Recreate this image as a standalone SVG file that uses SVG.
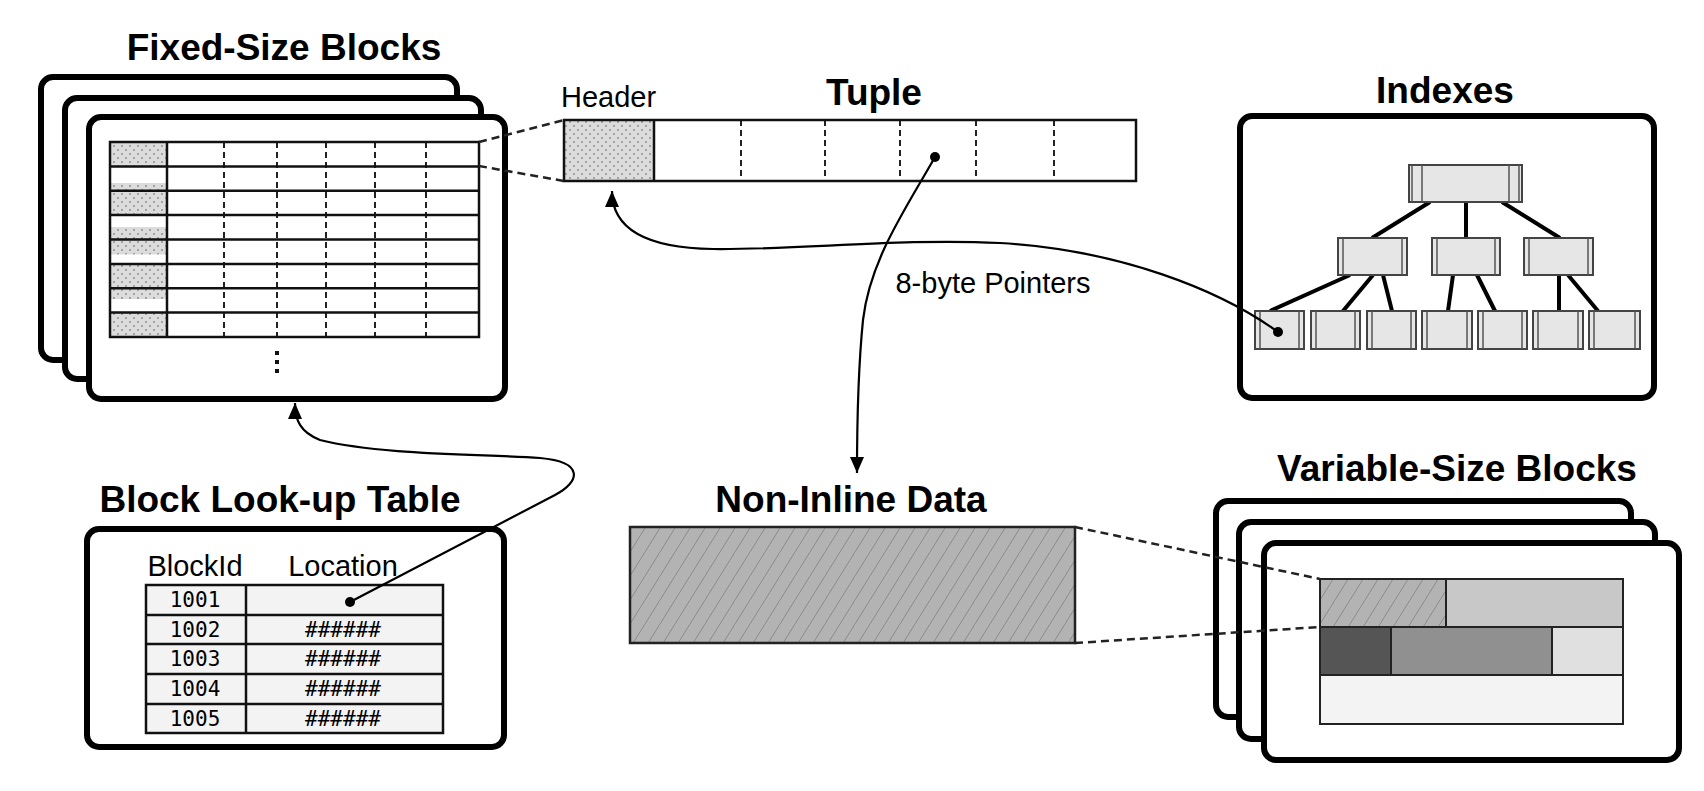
<svg xmlns="http://www.w3.org/2000/svg" width="1704" height="791" viewBox="0 0 1704 791">
<style>
.title{font-family:"Liberation Sans",Arial,sans-serif;font-weight:bold;font-size:37px;fill:#000}
.lbl{font-family:"Liberation Sans",Arial,sans-serif;font-size:29px;fill:#000}
.mono{font-family:"DejaVu Sans Mono","Liberation Mono",monospace;font-size:21px;fill:#000}
.block{fill:#fff;stroke:#000;stroke-width:6}
.grid{fill:none;stroke:#111;stroke-width:2.5}
.vdash{stroke:#222;stroke-width:2;stroke-dasharray:6 4}
.zoomdash{stroke:#222;stroke-width:2.5;stroke-dasharray:8 5;fill:none}
.node{fill:#e6e6e6;stroke:#444;stroke-width:2}
.nline{stroke:#555;stroke-width:1.5}
.edge{stroke:#000;stroke-width:4}
.conn{fill:none;stroke:#000;stroke-width:2.2}
.cell{stroke:#111;stroke-width:2.5}
</style>
<defs>
<pattern id="stip" width="8" height="8" patternUnits="userSpaceOnUse">
<rect width="8" height="8" fill="#dcdcdc"/>
<circle cx="2" cy="2" r="1" fill="#909090"/>
<circle cx="6" cy="6" r="1" fill="#909090"/>
</pattern>
<pattern id="hatch" width="15" height="24" patternUnits="userSpaceOnUse">
<rect width="15" height="24" fill="#b3b3b3"/>
<line x1="0" y1="24" x2="15" y2="0" stroke="#8a8a8a" stroke-width="1"/>
</pattern>
<marker id="arr" markerUnits="userSpaceOnUse" markerWidth="17" markerHeight="14" refX="16" refY="7" orient="auto">
<path d="M0,0 L16,7 L0,14 z" fill="#000"/>
</marker>
</defs>

<g id="fixed-size-blocks">
<text class="title" x="284" y="60" text-anchor="middle">Fixed-Size Blocks</text>
<rect class="block" x="41" y="77" width="416" height="283" rx="12"/>
<rect class="block" x="65" y="98" width="416" height="281" rx="12"/>
<rect class="block" x="89" y="117" width="416" height="282" rx="12"/>
<rect x="110" y="142" width="57" height="24.4" fill="url(#stip)"/>
<rect x="110" y="183" width="57" height="7.7" fill="url(#stip)"/>
<rect x="110" y="190.7" width="57" height="24.4" fill="url(#stip)"/>
<rect x="110" y="227" width="57" height="12" fill="url(#stip)"/>
<rect x="110" y="239.5" width="57" height="15" fill="url(#stip)"/>
<rect x="110" y="264" width="57" height="24.4" fill="url(#stip)"/>
<rect x="110" y="288.4" width="57" height="10.6" fill="url(#stip)"/>
<rect x="110" y="312.6" width="57" height="24.4" fill="url(#stip)"/>
<g class="vdash">
<line x1="224" y1="142" x2="224" y2="337"/>
<line x1="277" y1="142" x2="277" y2="337"/>
<line x1="326" y1="142" x2="326" y2="337"/>
<line x1="375" y1="142" x2="375" y2="337"/>
<line x1="426" y1="142" x2="426" y2="337"/>
</g>
<rect class="grid" x="110" y="142" width="369" height="195"/>
<g class="grid">
<line x1="167" y1="142" x2="167" y2="337"/>
<line x1="110" y1="166.4" x2="479" y2="166.4"/>
<line x1="110" y1="190.7" x2="479" y2="190.7"/>
<line x1="110" y1="215.1" x2="479" y2="215.1"/>
<line x1="110" y1="239.5" x2="479" y2="239.5"/>
<line x1="110" y1="263.9" x2="479" y2="263.9"/>
<line x1="110" y1="288.3" x2="479" y2="288.3"/>
<line x1="110" y1="312.6" x2="479" y2="312.6"/>
</g>
<rect x="275" y="351" width="4" height="4" fill="#111"/>
<rect x="275" y="360" width="4" height="4" fill="#111"/>
<rect x="275" y="369" width="4" height="4" fill="#111"/>
</g>

<g id="tuple">
<text class="title" x="874" y="105" text-anchor="middle">Tuple</text>
<text class="lbl" x="561" y="107">Header</text>
<rect x="564" y="120" width="90" height="61" fill="url(#stip)"/>
<g class="vdash">
<line x1="741" y1="120" x2="741" y2="181"/>
<line x1="825" y1="120" x2="825" y2="181"/>
<line x1="900" y1="120" x2="900" y2="181"/>
<line x1="976" y1="120" x2="976" y2="181"/>
<line x1="1054" y1="120" x2="1054" y2="181"/>
</g>
<rect class="grid" x="564" y="120" width="572" height="61"/>
<line class="grid" x1="654" y1="120" x2="654" y2="181"/>
<circle cx="935" cy="157" r="5" fill="#000"/>
</g>

<g id="indexes">
<text class="title" x="1445" y="103" text-anchor="middle">Indexes</text>
<rect class="block" x="1240" y="116" width="414" height="282" rx="12"/>
<g>
<line class="edge" x1="1430" y1="202" x2="1372" y2="238"/>
<line class="edge" x1="1466" y1="202" x2="1466" y2="238"/>
<line class="edge" x1="1502" y1="202" x2="1560" y2="238"/>
<line class="edge" x1="1350" y1="275" x2="1270" y2="311"/>
<line class="edge" x1="1373" y1="275" x2="1343" y2="311"/>
<line class="edge" x1="1383" y1="275" x2="1392" y2="311"/>
<line class="edge" x1="1453" y1="275" x2="1448" y2="311"/>
<line class="edge" x1="1477" y1="275" x2="1495" y2="311"/>
<line class="edge" x1="1559" y1="275" x2="1559" y2="311"/>
<line class="edge" x1="1568" y1="275" x2="1598" y2="311"/>
</g>
<g>
<rect class="node" x="1409" y="165" width="113" height="37"/>
<line class="nline" x1="1412" y1="165" x2="1412" y2="202"/><line class="nline" x1="1422" y1="165" x2="1422" y2="202"/>
<line class="nline" x1="1519" y1="165" x2="1519" y2="202"/><line class="nline" x1="1509" y1="165" x2="1509" y2="202"/>
</g>
<g>
<rect class="node" x="1338" y="238" width="69" height="37"/>
<line class="nline" x1="1343" y1="238" x2="1343" y2="275"/><line class="nline" x1="1402" y1="238" x2="1402" y2="275"/>
<rect class="node" x="1432" y="238" width="68" height="37"/>
<line class="nline" x1="1437" y1="238" x2="1437" y2="275"/><line class="nline" x1="1495" y1="238" x2="1495" y2="275"/>
<rect class="node" x="1524" y="238" width="69" height="37"/>
<line class="nline" x1="1529" y1="238" x2="1529" y2="275"/><line class="nline" x1="1588" y1="238" x2="1588" y2="275"/>
</g>
<g>
<rect class="node" x="1255" y="311" width="49" height="38"/>
<line class="nline" x1="1260" y1="311" x2="1260" y2="349"/><line class="nline" x1="1299" y1="311" x2="1299" y2="349"/>
<rect class="node" x="1311" y="311" width="49" height="38"/>
<line class="nline" x1="1316" y1="311" x2="1316" y2="349"/><line class="nline" x1="1355" y1="311" x2="1355" y2="349"/>
<rect class="node" x="1367" y="311" width="49" height="38"/>
<line class="nline" x1="1372" y1="311" x2="1372" y2="349"/><line class="nline" x1="1411" y1="311" x2="1411" y2="349"/>
<rect class="node" x="1422" y="311" width="50" height="38"/>
<line class="nline" x1="1427" y1="311" x2="1427" y2="349"/><line class="nline" x1="1467" y1="311" x2="1467" y2="349"/>
<rect class="node" x="1478" y="311" width="49" height="38"/>
<line class="nline" x1="1483" y1="311" x2="1483" y2="349"/><line class="nline" x1="1522" y1="311" x2="1522" y2="349"/>
<rect class="node" x="1533" y="311" width="50" height="38"/>
<line class="nline" x1="1538" y1="311" x2="1538" y2="349"/><line class="nline" x1="1578" y1="311" x2="1578" y2="349"/>
<rect class="node" x="1589" y="311" width="51" height="38"/>
<line class="nline" x1="1594" y1="311" x2="1594" y2="349"/><line class="nline" x1="1635" y1="311" x2="1635" y2="349"/>
</g>
<circle cx="1278" cy="332" r="5" fill="#000"/>
</g>

<g id="block-lookup-table">
<text class="title" x="280" y="512" text-anchor="middle">Block Look-up Table</text>
<rect class="block" x="87" y="529" width="417" height="218" rx="12"/>
<text class="lbl" x="195" y="576" text-anchor="middle">BlockId</text>
<text class="lbl" x="343" y="576" text-anchor="middle">Location</text>
<rect x="146" y="585" width="297" height="148" fill="#f3f3f3" stroke="#111" stroke-width="2.5"/>
<g class="cell">
<line x1="246" y1="585" x2="246" y2="733"/>
<line x1="146" y1="615" x2="443" y2="615"/>
<line x1="146" y1="644" x2="443" y2="644"/>
<line x1="146" y1="674" x2="443" y2="674"/>
<line x1="146" y1="704" x2="443" y2="704"/>
</g>
<text class="mono" x="195" y="607" text-anchor="middle">1001</text>
<text class="mono" x="195" y="637" text-anchor="middle">1002</text>
<text class="mono" x="195" y="666" text-anchor="middle">1003</text>
<text class="mono" x="195" y="696" text-anchor="middle">1004</text>
<text class="mono" x="195" y="726" text-anchor="middle">1005</text>
<text class="mono" x="343" y="637" text-anchor="middle">######</text>
<text class="mono" x="343" y="666" text-anchor="middle">######</text>
<text class="mono" x="343" y="696" text-anchor="middle">######</text>
<text class="mono" x="343" y="726" text-anchor="middle">######</text>
<circle cx="350" cy="602" r="5" fill="#000"/>
</g>

<g id="non-inline-data">
<text class="title" x="851" y="512" text-anchor="middle">Non-Inline Data</text>
<rect x="630" y="527" width="445" height="116" fill="url(#hatch)" stroke="#222" stroke-width="2.5"/>
</g>

<g id="variable-size-blocks">
<text class="title" x="1457" y="481" text-anchor="middle">Variable-Size Blocks</text>
<rect class="block" x="1216" y="501" width="415" height="216" rx="12"/>
<rect class="block" x="1239" y="522" width="416" height="217" rx="12"/>
<rect class="block" x="1264" y="543" width="415" height="217" rx="12"/>
<g stroke="#222" stroke-width="2">
<rect x="1320" y="579" width="126" height="48" fill="url(#hatch)"/>
<rect x="1446" y="579" width="177" height="48" fill="#c8c8c8"/>
<rect x="1320" y="627" width="71" height="48" fill="#555"/>
<rect x="1391" y="627" width="161" height="48" fill="#909090"/>
<rect x="1552" y="627" width="71" height="48" fill="#e0e0e0"/>
<rect x="1320" y="675" width="303" height="49" fill="#f3f3f3"/>
</g>
</g>

<g id="connectors">
<line class="zoomdash" x1="479" y1="142" x2="564" y2="120"/>
<line class="zoomdash" x1="479" y1="166" x2="564" y2="181"/>
<line class="zoomdash" x1="1075" y1="527" x2="1320" y2="579"/>
<line class="zoomdash" x1="1075" y1="643" x2="1320" y2="627"/>
<path class="conn" d="M1278,332 C1220,290 1120,250 1000,243 C900,238 800,250 713,249 C645,248 612,228 612,191" marker-end="url(#arr)"/>
<path class="conn" d="M935,157 C905,210 870,260 863,320 C858,370 857,420 857,473" marker-end="url(#arr)"/>
<path class="conn" d="M350,602 L555,495 C580,482 585,462 540,458 C480,454 380,455 320,440 C300,432 295,420 295,403" marker-end="url(#arr)"/>
<text class="lbl" x="993" y="293" text-anchor="middle">8-byte Pointers</text>
</g>
</svg>
